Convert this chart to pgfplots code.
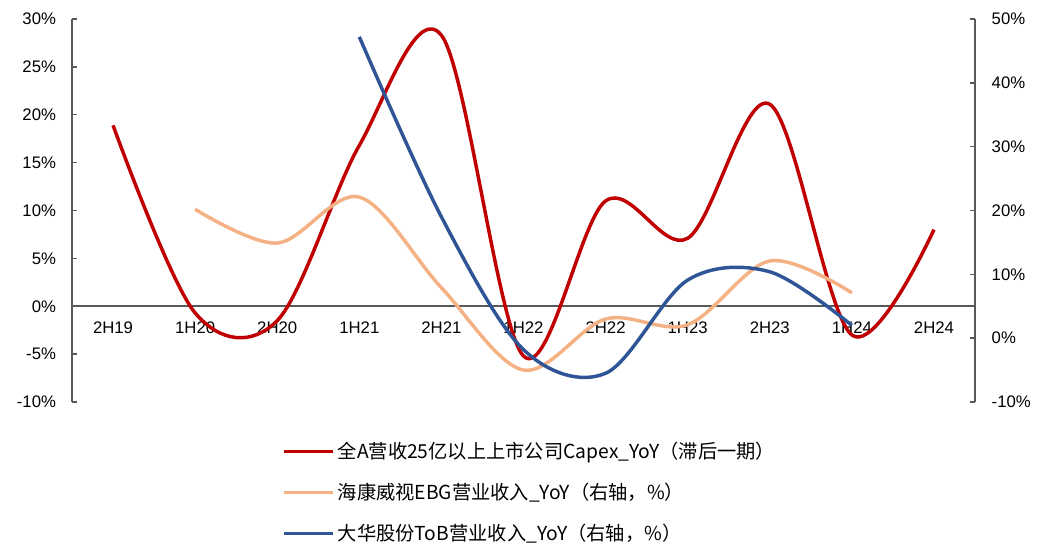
\documentclass[border=0pt]{standalone}
\usepackage{pgfplots}
\pgfplotsset{compat=1.18}
\usepackage{fontspec}
\setmainfont{Liberation Sans}
\newfontfamily\cjk{Noto Sans CJK SC}

\definecolor{cred}{HTML}{C00000}
\definecolor{corange}{HTML}{F4B183}
\definecolor{cblue}{HTML}{2F5597}
\definecolor{axgray}{HTML}{595959}

\pgfplotsset{
  base/.style={
    at={(54bp,108.75bp)}, anchor=south west,
    scale only axis, width=677.25bp, height=287.25bp,
    xmin=-0.5, xmax=10.5,
    tick align=inside,
    major tick length=3.75bp,
    every tick/.style={axgray, line width=1.1bp},
    axis line style={axgray, line width=1.3bp, -},
    tick label style={font=\fontsize{12.6}{14}\selectfont, black},
  },
  ser/.style={line width=2.6bp, smooth, tension=0.55, mark=none},
}

\begin{document}
\begin{tikzpicture}
\path[use as bounding box] (0,0) rectangle (787.5bp,410.25bp);

% left axis: Capex
\begin{axis}[base,
  axis y line*=left, axis x line*=middle,
  ymin=-10, ymax=30,
  ytick={-10,-5,...,30},
  yticklabels={-10\%,-5\%,0\%,5\%,10\%,15\%,20\%,25\%,30\%},
  yticklabel style={xshift=-8.5bp},
  xtick={0,...,10},
  xticklabels={2H19,1H20,2H20,1H21,2H21,1H22,2H22,1H23,2H23,1H24,2H24},
  x tick style={draw=none},
  xticklabel style={yshift=-8.5bp},
]
\addplot[ser, cred] coordinates {
  (0,18.9) (1,-0.7) (2,-1.5) (3,16.8) (4,28.3) (5,-5.2)
  (6,11.0) (7,7.1) (8,21.1) (9,-3.0) (10,8.0)
};
\end{axis}

% right axis: Hikvision EBG, Dahua ToB
\begin{axis}[base,
  axis y line*=right, axis x line=none,
  ymin=-10, ymax=50,
  ytick={-10,0,...,50},
  yticklabels={-10\%,0\%,10\%,20\%,30\%,40\%,50\%},
  yticklabel style={xshift=9bp},
  legend style={
    at={(0.2326,-0.097)}, anchor=north west,
    draw=none, fill=none,
    font=\cjk\fontsize{14.5}{16}\selectfont,
    row sep=13bp,
    inner sep=0pt,
  },
  legend cell align=left,
  legend image code/.code={\draw[#1, line width=2.6bp] (0bp,0bp) -- (37bp,0bp);},
]
\addlegendimage{cred}
\addlegendentry{全A营收25亿以上上市公司Capex\_YoY（滞后一期）}
\addplot[ser, corange] coordinates {
  (1,20.2) (2,14.9) (3,22.1) (4,7.9) (5,-5.0)
  (6,3.0) (7,2.1) (8,12.1) (9,7.1)
};
\addlegendentry{海康威视EBG营业收入\_YoY（右轴，\%）}
\addplot[ser, cblue] coordinates {
  (3,47.2) (4,19.0) (5,-1.8) (6,-5.5) (7,9.1) (8,10.4) (9,2.0)
};
\addlegendentry{大华股份ToB营业收入\_YoY（右轴，\%）}
\end{axis}
\end{tikzpicture}
\end{document}
